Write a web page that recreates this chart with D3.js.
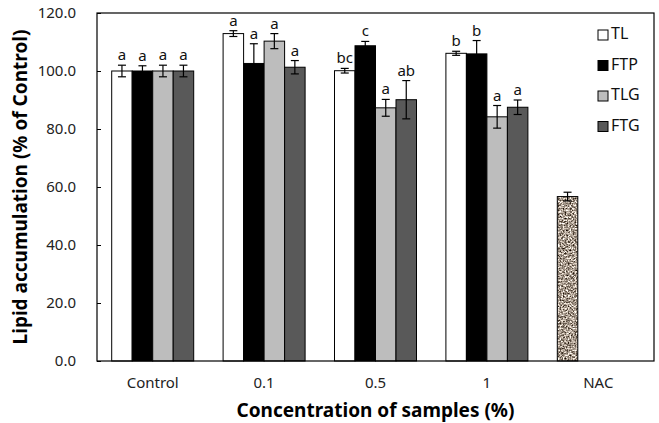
<!DOCTYPE html>
<html>
<head>
<meta charset="utf-8">
<script src="https://cdn.jsdelivr.net/npm/d3@7"></script>
<style>
  body { margin: 0; background: #fff; }
  text { font-family: "Noto Sans", "Open Sans", sans-serif; }
</style>
</head>
<body>
<div id="chart"></div>
<script>
// data
const categories = ['Control', '0.1', '0.5', '1', 'NAC'];
const series = ['TL', 'FTP', 'TLG', 'FTG'];
const TL  = [100.0, 112.9, 100.1, 106.1, null];
const FTP = [100.0, 102.6, 108.7, 105.9, null];
const TLG = [100.0, 110.3, 87.3, 84.2, null];
const FTG = [100.0, 101.3, 90.1, 87.5, null];
const errTL  = [2.0, 1.0, 0.8, 0.7, null];
const errFTP = [1.8, 6.8, 1.5, 4.6, null];
const errTLG = [2.0, 2.6, 2.9, 3.9, null];
const errFTG = [2.0, 2.3, 6.6, 2.5, null];
const lettersTL  = ['a', 'a', 'bc', 'b', null];
const lettersFTP = ['a', 'a', 'c', 'b', null];
const lettersTLG = ['a', 'a', 'a', 'a', null];
const lettersFTG = ['a', 'a', 'ab', 'a', null];
const nacValue = 56.7, nacErr = 1.5;
const yTicks = [0, 20, 40, 60, 80, 100, 120];

const colors = {TL: '#ffffff', FTP: '#000000', TLG: '#bdbdbd', FTG: '#595959'};
const values = {TL, FTP, TLG, FTG};
const errs = {TL: errTL, FTP: errFTP, TLG: errTLG, FTG: errFTG};
const letters = {TL: lettersTL, FTP: lettersFTP, TLG: lettersTLG, FTG: lettersFTG};

const width = 659, height = 423;
const margin = {left: 97, top: 13, right: 5, bottom: 62};

const svg = d3.select('#chart').append('svg').attr('width', width).attr('height', height);

// speckled texture for the NAC bar
const defs = svg.append('defs');
const flt = defs.append('filter').attr('id', 'speckle')
  .attr('x', 0).attr('y', 0).attr('width', 1).attr('height', 1)
  .attr('color-interpolation-filters', 'sRGB');
flt.append('feTurbulence').attr('type', 'fractalNoise').attr('baseFrequency', 0.6).attr('numOctaves', 2).attr('seed', 5).attr('result', 'n');
flt.append('feColorMatrix').attr('in', 'n').attr('type', 'matrix')
  .attr('values', '1.8 0 0 0 -0.25  1.8 0 0 0 -0.30  1.8 0 0 0 -0.35  0 0 0 0 1').attr('result', 'tex');
flt.append('feComposite').attr('in', 'tex').attr('in2', 'SourceGraphic').attr('operator', 'in');

const x = d3.scaleBand().domain(categories).range([margin.left, width - margin.right]);
const xs = d3.scaleBand().domain(series).range([-41, 41]);
const y = d3.scaleLinear().domain([0, 120]).range([height - margin.bottom, margin.top]);

const g = svg.append('g');

// bars
series.forEach((s) => {
  categories.forEach((c, i) => {
    const v = values[s][i];
    if (v == null) return;
    const cx = x(c) + x.bandwidth() / 2 + xs(s);
    g.append('rect')
      .attr('x', cx).attr('y', y(v))
      .attr('width', xs.bandwidth()).attr('height', y(0) - y(v))
      .attr('fill', colors[s]).attr('stroke', '#000').attr('stroke-width', 1);
  });
});

// NAC bar, drawn in the first slot of its group
const nacX = x('NAC') + x.bandwidth() / 2 + xs('TL');
g.append('rect')
  .attr('x', nacX).attr('y', y(nacValue))
  .attr('width', xs.bandwidth()).attr('height', y(0) - y(nacValue))
  .attr('fill', '#b0a496').attr('filter', 'url(#speckle)');
g.append('rect')
  .attr('x', nacX).attr('y', y(nacValue))
  .attr('width', xs.bandwidth()).attr('height', y(0) - y(nacValue))
  .attr('fill', 'none').attr('stroke', '#000').attr('stroke-width', 1);

function errorBar(cx, v, e) {
  g.append('line').attr('x1', cx).attr('x2', cx).attr('y1', y(v - e)).attr('y2', y(v + e))
    .attr('stroke', '#000').attr('stroke-width', 1.2);
  [v - e, v + e].forEach((t) => {
    g.append('line').attr('x1', cx - 4).attr('x2', cx + 4).attr('y1', y(t)).attr('y2', y(t))
      .attr('stroke', '#000').attr('stroke-width', 1.2);
  });
}

// error bars + significance letters
series.forEach((s) => {
  categories.forEach((c, i) => {
    const v = values[s][i];
    if (v == null) return;
    const cx = x(c) + x.bandwidth() / 2 + xs(s) + xs.bandwidth() / 2;
    errorBar(cx, v, errs[s][i]);
    g.append('text')
      .attr('x', cx).attr('y', y(v + errs[s][i]) - 5)
      .attr('text-anchor', 'middle').attr('font-size', 15).attr('fill', '#111')
      .text(letters[s][i]);
  });
});
errorBar(nacX + xs.bandwidth() / 2, nacValue, nacErr);

// frame
svg.append('rect')
  .attr('x', margin.left).attr('y', margin.top)
  .attr('width', width - margin.right - margin.left).attr('height', y(0) - margin.top)
  .attr('fill', 'none').attr('stroke', '#000').attr('stroke-width', 1.2);

// y axis
const yAxis = d3.axisLeft(y).tickValues(yTicks).tickFormat(d3.format('.1f')).tickSize(-4).tickPadding(21);
const ya = svg.append('g').attr('transform', 'translate(' + margin.left + ',0)').call(yAxis);
ya.select('.domain').remove();
ya.selectAll('text').attr('font-size', 15).attr('fill', '#222');
ya.selectAll('.tick line').attr('stroke', '#000');

// x axis labels
const xAxis = d3.axisBottom(x).tickSize(0).tickPadding(16);
const xa = svg.append('g').attr('transform', 'translate(0,' + y(0) + ')').call(xAxis);
xa.select('.domain').remove();
xa.selectAll('text').attr('font-size', 15).attr('fill', '#222');

// titles
svg.append('text')
  .attr('transform', 'translate(22,' + ((margin.top + y(0)) / 2) + ') rotate(-90)')
  .attr('text-anchor', 'middle').attr('dominant-baseline', 'middle')
  .attr('font-size', 19).attr('font-weight', 'bold').text('Lipid accumulation (% of Control)');
svg.append('text')
  .attr('x', (margin.left + width - margin.right) / 2).attr('y', 417)
  .attr('text-anchor', 'middle')
  .attr('font-size', 19).attr('font-weight', 'bold').text('Concentration of samples (%)');

// legend
const legend = svg.append('g').attr('transform', 'translate(598,30)');
series.forEach((s, i) => {
  const row = legend.append('g').attr('transform', 'translate(0,' + (i * 30.5) + ')');
  row.append('rect').attr('x', 0).attr('y', 0).attr('width', 10).attr('height', 10)
    .attr('fill', colors[s]).attr('stroke', '#000').attr('stroke-width', 1);
  row.append('text').attr('x', 13).attr('y', 5).attr('dominant-baseline', 'middle')
    .attr('font-size', 16).attr('fill', '#111').text(s);
});
</script>
</body>
</html>
